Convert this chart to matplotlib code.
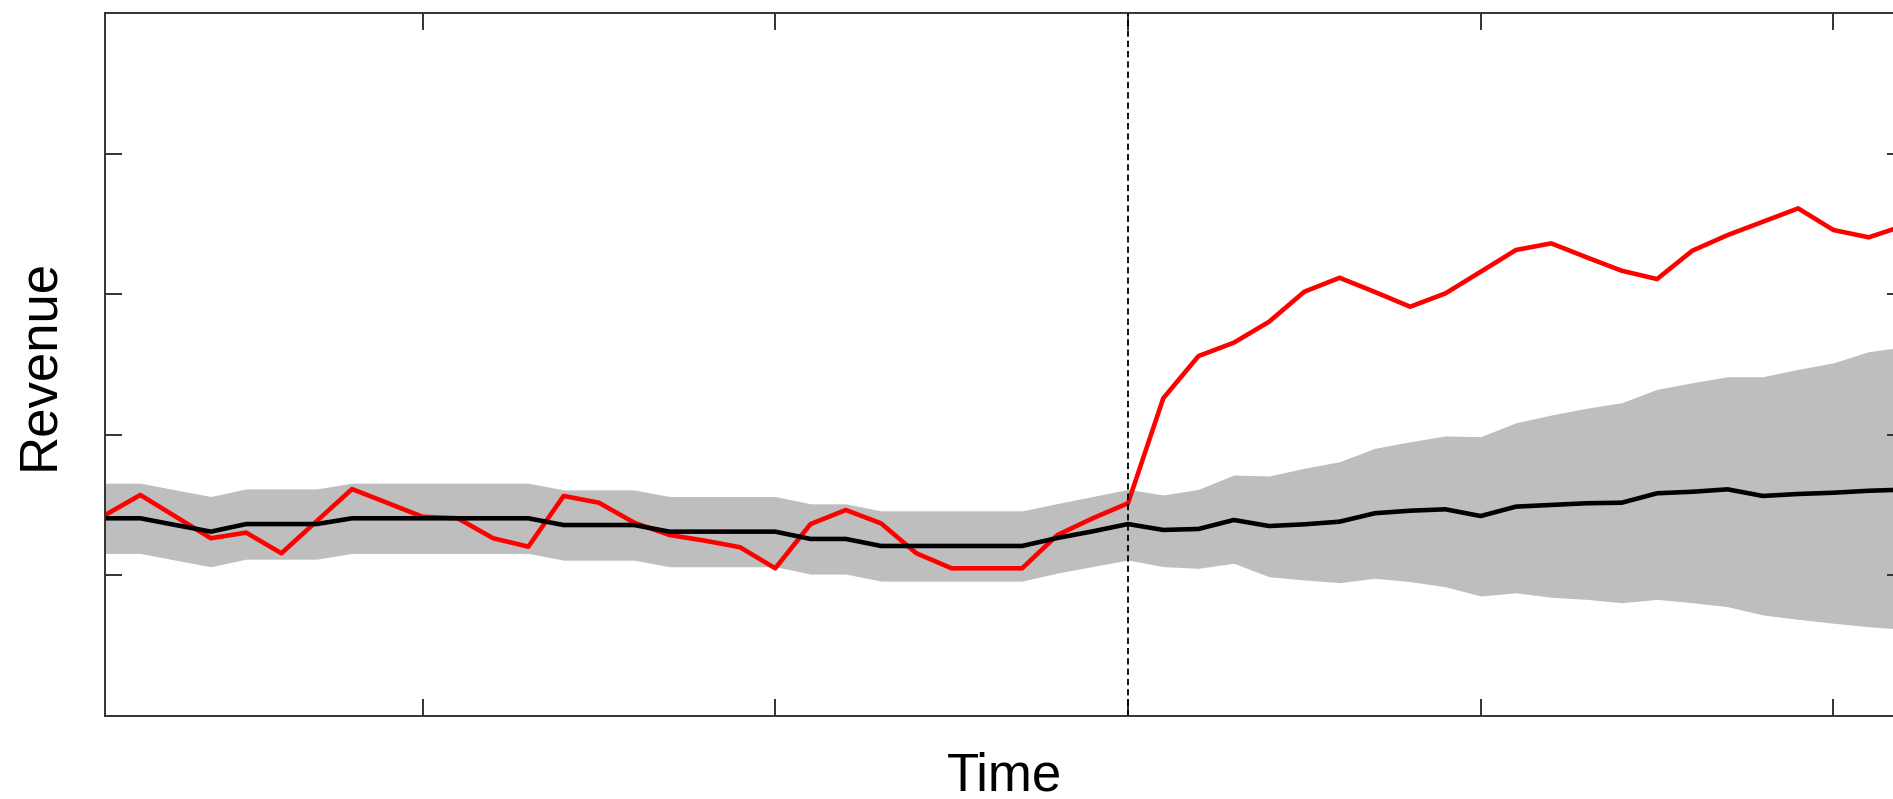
import numpy as np
import matplotlib
matplotlib.use("Agg")
import matplotlib.pyplot as plt

# weekly revenue, intervention after week 30
weeks = np.arange(1, 53)
intervention = 30

observed = [14.28, 15.71, 14.17, 12.63, 13.03, 11.56, 13.85, 16.13, 15.15, 14.16,
            14.05, 12.63, 12.03, 15.64, 15.16, 13.74, 12.86, 12.46, 11.99, 10.49,
            13.64, 14.64, 13.69, 11.56, 10.49, 10.49, 10.49, 12.86, 14.05, 15.12,
            22.59, 25.60, 26.55, 28.04, 30.18, 31.17, 30.16, 29.11, 30.06, 31.60,
            33.15, 33.62, 32.63, 31.67, 31.08, 33.10, 34.21, 35.16, 36.11, 34.57,
            34.05, 34.88]

predicted = [14.05, 14.05, 13.57, 13.10, 13.64, 13.64, 13.64, 14.05, 14.05, 14.05,
             14.05, 14.05, 14.05, 13.57, 13.57, 13.57, 13.10, 13.10, 13.10, 13.10,
             12.58, 12.58, 12.08, 12.08, 12.08, 12.08, 12.08, 12.65, 13.12, 13.64,
             13.22, 13.29, 13.93, 13.50, 13.62, 13.81, 14.41, 14.59, 14.69, 14.21,
             14.88, 15.00, 15.12, 15.16, 15.83, 15.94, 16.11, 15.64, 15.78, 15.87,
             16.01, 16.09]

upper = [16.55, 16.55, 16.07, 15.60, 16.14, 16.14, 16.14, 16.55, 16.55, 16.55,
         16.55, 16.55, 16.55, 16.07, 16.07, 16.07, 15.60, 15.60, 15.60, 15.60,
         15.08, 15.08, 14.58, 14.58, 14.58, 14.58, 14.58, 15.10, 15.60, 16.11,
         15.71, 16.11, 17.13, 17.06, 17.61, 18.08, 19.03, 19.50, 19.91, 19.86,
         20.85, 21.40, 21.88, 22.28, 23.23, 23.70, 24.13, 24.13, 24.65, 25.12,
         25.91, 26.26]

lower = [11.55, 11.55, 11.07, 10.60, 11.14, 11.14, 11.14, 11.55, 11.55, 11.55,
         11.55, 11.55, 11.55, 11.07, 11.07, 11.07, 10.60, 10.60, 10.60, 10.60,
         10.08, 10.08, 9.58, 9.58, 9.58, 9.58, 9.58, 10.15, 10.62, 11.08,
         10.61, 10.49, 10.85, 9.89, 9.66, 9.47, 9.78, 9.54, 9.18, 8.52,
         8.75, 8.43, 8.28, 8.04, 8.28, 8.04, 7.76, 7.17, 6.86, 6.58,
         6.33, 6.15]

x_ticks = [10, 20, 30, 40, 50]
y_ticks = [10, 20, 30, 40]

fig = plt.figure(figsize=(18.93, 7.99), dpi=100)
ax = fig.add_axes([0.0555, 0.1043, 0.9503, 0.8791])

ax.fill_between(weeks, lower, upper, color="#BEBEBE", lw=0)

ax.plot(weeks, observed, color="#FF0000", lw=3.3)
ax.plot(weeks, predicted, color="black", lw=3.3)
ax.axvline(intervention, color="black", lw=1.3, ls=(0, (3.5, 2.2)))

ax.set_xlim(1, 52)
ax.set_ylim(0, 50)
ax.set_xticks(x_ticks)
ax.set_yticks(y_ticks)
ax.set_xticklabels([])
ax.set_yticklabels([])
ax.tick_params(direction="in", length=12, width=1.4, color="#333333",
               top=True, right=True)
for s in ax.spines.values():
    s.set_color("#333333")
    s.set_linewidth(1.4)

ax.set_xlabel("Time", fontsize=38, family="Liberation Sans", labelpad=22)
ax.set_ylabel("Revenue", fontsize=38, family="Liberation Sans", labelpad=26)

fig.savefig("out.png", dpi=100)
